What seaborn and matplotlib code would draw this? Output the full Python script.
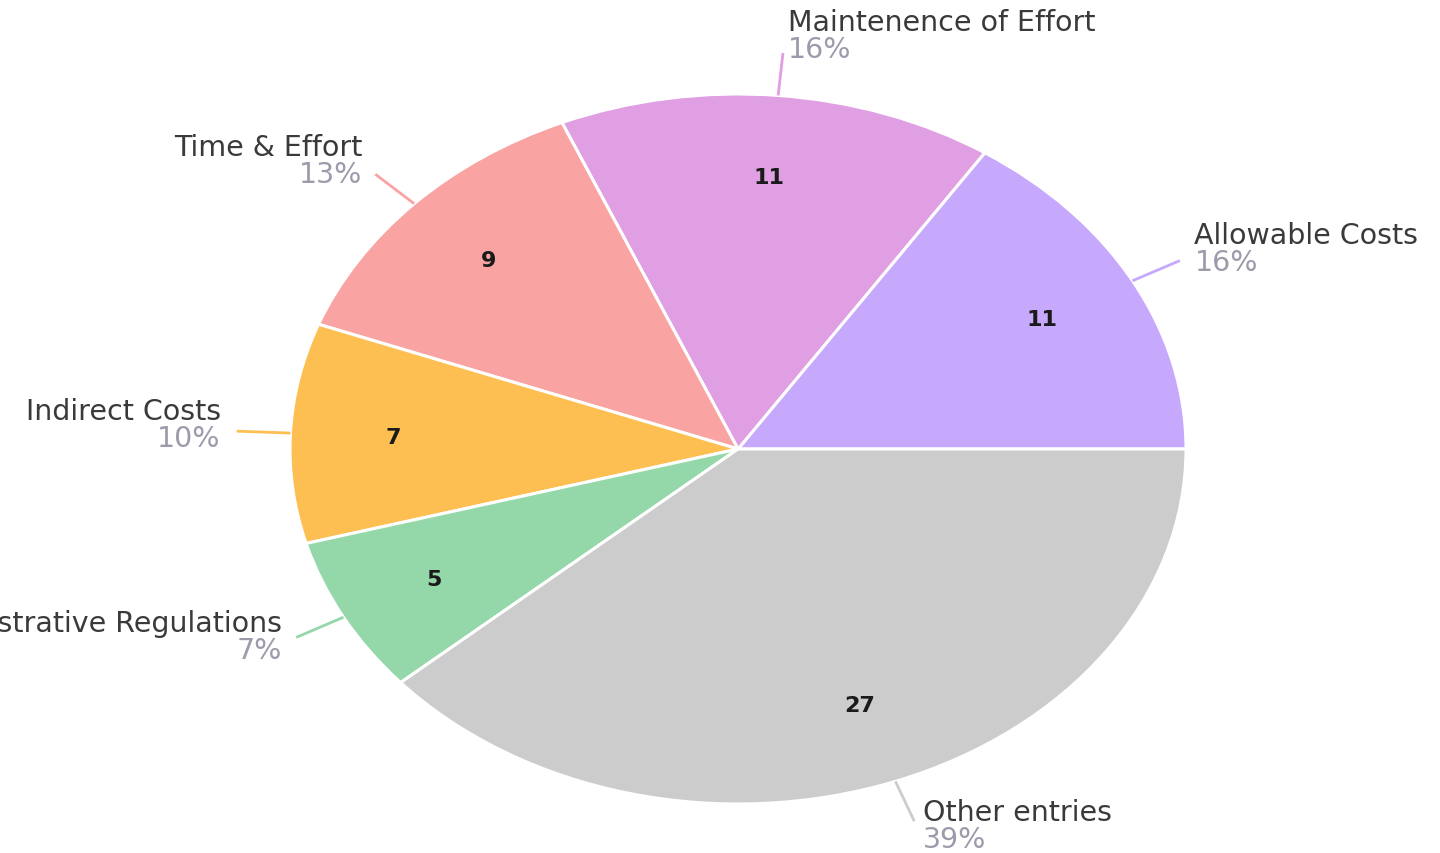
import numpy as np
import matplotlib
matplotlib.use('Agg')
import matplotlib.pyplot as plt
import seaborn as sns

# data
categories = ['Allowable Costs', 'Maintenence of Effort', 'Time & Effort',
              'Indirect Costs', 'Administrative Regulations', 'Other entries']
counts = [11, 11, 9, 7, 5, 27]
slice_colors = ['#c6a8fc', '#e09fe3', '#f9a3a3', '#fdbf52', '#94d8aa', '#cccccc']

sns.set_theme(style='white')
plt.rcParams['font.family'] = ['DejaVu Sans']

fig = plt.figure(figsize=(14.4, 8.54), dpi=100)
ax = fig.add_axes([0, 0, 1, 1])

total = float(sum(counts))
wedges, _, inner = ax.pie(
    counts, colors=sns.color_palette(slice_colors), startangle=0,
    counterclock=True, radius=1.0,
    autopct=lambda p: '{:.0f}'.format(p * total / 100.0),
    pctdistance=0.77,
    wedgeprops=dict(edgecolor='white', linewidth=2.2),
    textprops=dict(fontsize=16, color='#1a1a1a', fontweight='bold'))

# elliptical pie like the reference: stretch the unit circle
ax.set_aspect('auto')
ax.set_xlim(-738 / 448.0, 702 / 448.0)
ax.set_ylim(-404 / 355.0, 450 / 355.0)
ax.axis('off')

name_color = '#3a3a3a'
pct_color = '#9b9bab'
px = 72.0 / fig.dpi

for w, name, n, col in zip(wedges, categories, counts, slice_colors):
    theta = np.deg2rad((w.theta1 + w.theta2) / 2.0)
    c, s = np.cos(theta), np.sin(theta)
    ax.plot([1.0 * c, 1.12 * c], [1.0 * s, 1.12 * s], color=col, lw=2.0,
            solid_capstyle='butt')
    right = c >= 0
    dx = (12 * abs(c) + 4) * px * (1 if right else -1)
    dy = -(7 - 11 * s) * px
    ha = 'left' if right else 'right'
    end = (1.12 * c, 1.12 * s)
    pct = '{:.0f}%'.format(100.0 * n / total)
    ax.annotate(name, xy=end, xytext=(dx, dy + 27 * px), textcoords='offset points',
                ha=ha, va='center', fontsize=20.5, color=name_color,
                annotation_clip=False)
    ax.annotate(pct, xy=end, xytext=(dx, dy), textcoords='offset points',
                ha=ha, va='center', fontsize=20.5, color=pct_color,
                annotation_clip=False)

fig.savefig('out.png', dpi=100, facecolor='white')
